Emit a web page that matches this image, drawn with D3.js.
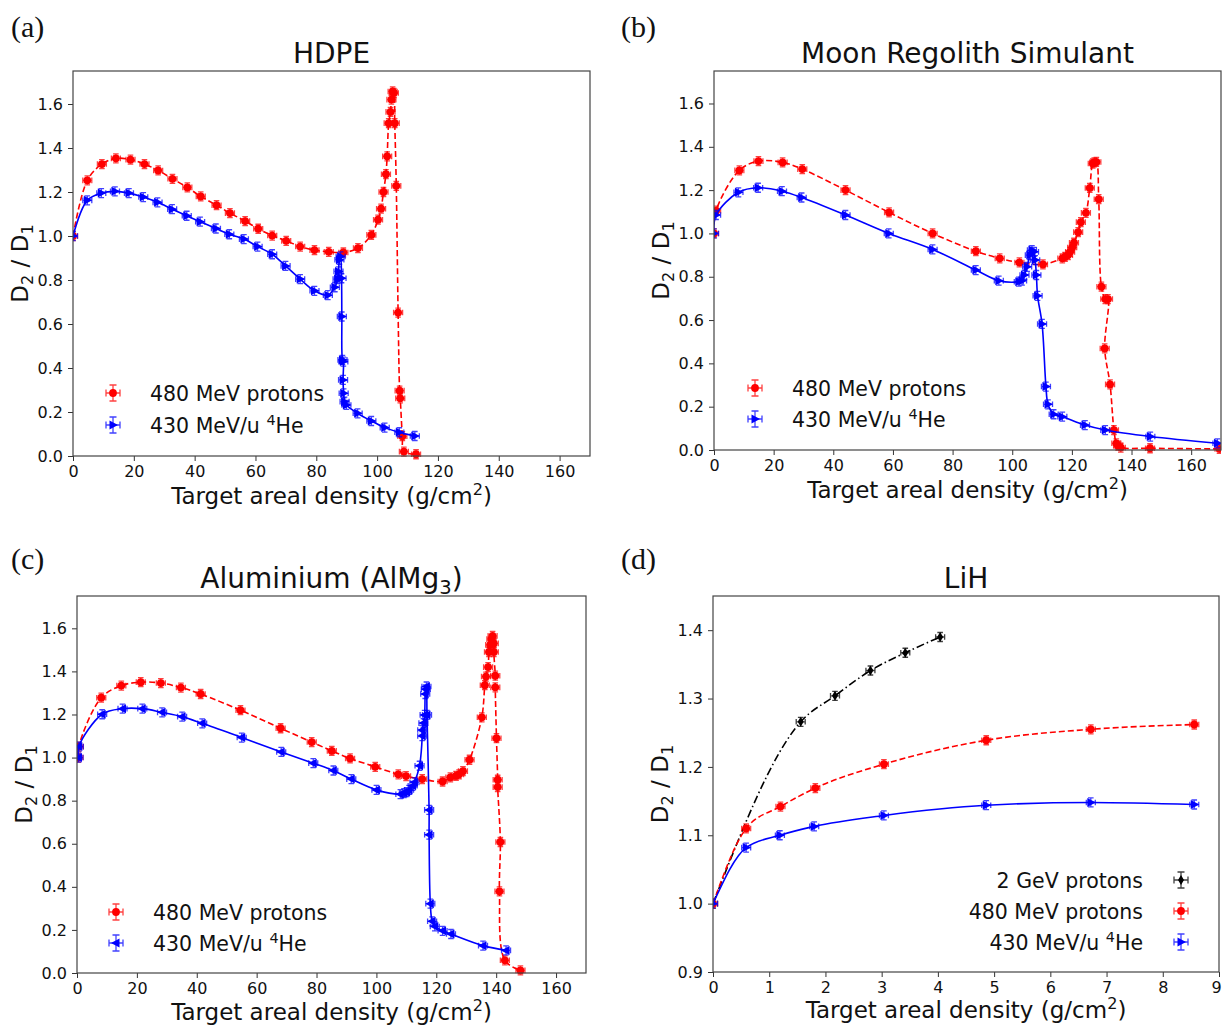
<!DOCTYPE html>
<html>
<head>
<meta charset="utf-8">
<title>D2/D1 vs target areal density</title>
<script src="https://d3js.org/d3.v7.min.js"></script>
<style>
  body { margin: 0; background: #fff; }
  svg { display: block; font-family: "DejaVu Sans", sans-serif; }
  .tick text { font-size: 16px; fill: #111; font-family: "DejaVu Sans", sans-serif; }
  .tick line { stroke: #333; }
  .domain { display: none; }
</style>
</head>
<body>
<div id="chart"></div>
<script>
// values: [areal density g/cm2, D2/D1]
const hdpeProtons = [[0,1.0],[4.7,1.253],[9.5,1.327],[14.1,1.353],[18.9,1.347],[23.5,1.327],[28.0,1.298],[32.7,1.260],[37.6,1.221],[42.0,1.180],[47.2,1.140],[51.6,1.104],[56.6,1.068],[60.9,1.033],[65.5,1.002],[70.1,0.978],[74.7,0.952],[79.4,0.936],[84.1,0.928],[88.9,0.925],[93.7,0.945],[98.1,1.005],[100.3,1.074],[101.3,1.124],[102.1,1.200],[102.9,1.281],[103.3,1.362],[103.8,1.513],[104.4,1.564],[104.7,1.620],[105.1,1.657],[105.5,1.650],[105.8,1.513],[106.3,1.228],[106.9,0.652],[107.4,0.297],[107.6,0.262],[108.3,0.090],[108.8,0.020],[112.8,0.008]];
const hdpeHe = [[0,1.0],[4.7,1.162],[9.3,1.195],[13.8,1.203],[18.4,1.195],[23.1,1.177],[27.8,1.153],[32.6,1.122],[37.4,1.092],[41.8,1.065],[47.0,1.034],[51.4,1.008],[56.2,0.986],[60.7,0.952],[65.5,0.917],[69.9,0.864],[74.7,0.804],[79.4,0.751],[83.8,0.731],[86.1,0.767],[87.0,0.804],[87.3,0.839],[87.6,0.892],[88.0,0.907],[88.3,0.808],[88.4,0.634],[88.6,0.437],[88.9,0.429],[88.8,0.346],[89.0,0.285],[89.3,0.247],[89.9,0.232],[93.6,0.194],[98.1,0.159],[102.5,0.129],[107.3,0.108],[112.4,0.091]];

const regolithProtons = [[0,1.0],[0.7,1.105],[8.5,1.291],[14.9,1.334],[23.0,1.328],[29.6,1.297],[44.1,1.200],[58.7,1.097],[73.3,1.000],[87.8,0.918],[95.8,0.885],[102.4,0.866],[110.3,0.857],[116.8,0.885],[117.7,0.892],[118.7,0.900],[119.4,0.915],[120.1,0.935],[120.7,0.957],[122.1,1.006],[123.0,1.052],[124.7,1.095],[126.0,1.210],[127.0,1.323],[127.5,1.328],[128.2,1.330],[129.0,1.158],[129.9,0.754],[131.2,0.697],[132.1,0.697],[131.0,0.469],[132.8,0.303],[134.1,0.092],[134.9,0.031],[135.5,0.020],[136.4,0.011],[146.2,0.008],[169.5,0.005]];
const regolithHe = [[0,1.0],[0.7,1.085],[8.2,1.190],[14.8,1.211],[22.8,1.195],[29.4,1.166],[44.1,1.085],[58.6,1.000],[73.3,0.926],[87.8,0.831],[95.5,0.782],[102.2,0.777],[103.3,0.782],[104.1,0.808],[105.0,0.846],[105.9,0.900],[106.6,0.923],[107.3,0.915],[107.7,0.877],[108.1,0.808],[108.5,0.712],[110.0,0.582],[111.3,0.293],[112.0,0.211],[113.9,0.165],[116.8,0.154],[124.4,0.115],[131.2,0.092],[146.3,0.062],[168.8,0.031]];

const aluminiumProtons = [[0.5,1.0],[0.6,1.051],[8.1,1.278],[14.8,1.334],[21.3,1.350],[28.0,1.346],[34.7,1.325],[41.3,1.295],[54.6,1.220],[68.0,1.136],[78.4,1.072],[85.1,1.031],[91.2,0.996],[99.6,0.957],[107.3,0.922],[109.9,0.914],[115.3,0.900],[122.1,0.889],[124.7,0.908],[126.6,0.915],[127.6,0.922],[128.9,0.937],[131.1,0.990],[135.2,1.187],[136.2,1.336],[136.6,1.376],[137.3,1.420],[137.6,1.490],[138.0,1.523],[138.4,1.550],[138.8,1.565],[139.2,1.530],[139.2,1.490],[139.7,1.380],[139.7,1.326],[140.1,1.090],[140.5,0.897],[140.5,0.863],[141.4,0.608],[141.1,0.379],[142.9,0.059],[148.1,0.012]];
const aluminiumHe = [[0.5,1.0],[0.6,1.051],[8.4,1.201],[15.2,1.227],[21.8,1.227],[28.4,1.210],[35.1,1.190],[41.8,1.159],[55.0,1.093],[68.2,1.026],[78.9,0.974],[85.6,0.940],[91.6,0.900],[100.0,0.850],[108.0,0.830],[109.2,0.835],[110.1,0.840],[110.9,0.850],[112.1,0.869],[112.7,0.885],[114.4,0.962],[115.3,1.100],[115.3,1.128],[115.7,1.160],[116.1,1.198],[116.3,1.295],[116.5,1.317],[116.7,1.330],[116.9,1.198],[117.6,0.757],[117.6,0.642],[118.0,0.322],[118.6,0.240],[119.5,0.216],[122.1,0.196],[124.9,0.181],[135.6,0.127],[143.3,0.105]];

const lihProtons2GeV = [[0,1.0],[1.56,1.266],[2.17,1.304],[2.80,1.341],[3.42,1.367],[4.04,1.390]];
const lihProtons480 = [[0,1.0],[0.59,1.110],[1.20,1.142],[1.82,1.169],[3.04,1.204],[4.86,1.239],[6.72,1.255],[8.56,1.262]];
const lihHe = [[0,1.0],[0.59,1.082],[1.19,1.100],[1.80,1.113],[3.04,1.129],[4.86,1.144],[6.72,1.148],[8.56,1.145]];

const densityTicks = [0, 20, 40, 60, 80, 100, 120, 140, 160];
const ratioTicks = [0.0, 0.2, 0.4, 0.6, 0.8, 1.0, 1.2, 1.4, 1.6];
const lihDensityTicks = [0, 1, 2, 3, 4, 5, 6, 7, 8, 9];
const lihRatioTicks = [0.9, 1.0, 1.1, 1.2, 1.3, 1.4];

const width = 1223, height = 1027;

// series styles
const proton480 = { label: [{t: "480 MeV protons"}], color: "#ff0000", dash: "6,3", marker: "circle" };
const helium = { label: [{t: "430 MeV/u "}, {t: "4", sup: true}, {t: "He"}], color: "#0000ff", dash: null, marker: "triRight" };
const proton2GeV = { label: [{t: "2 GeV protons"}], color: "#000000", dash: "8,3,1.5,3", marker: "diamond" };

const panels = [
    { tag: "(a)", title: [{t: "HDPE"}], box: {l: 73, r: 590, t: 71, b: 456},
      xDomain: [0, 170], yDomain: [0, 1.75], xTicks: densityTicks, yTicks: ratioTicks,
      series: [{...proton480, data: hdpeProtons}, {...helium, data: hdpeHe}],
      curve: "catmull", legend: {x: 113, y: 393, dy: 32, anchor: "start"}, titleY: 63, xlabelY: 504 },
    { tag: "(b)", title: [{t: "Moon Regolith Simulant"}], box: {l: 714, r: 1221, t: 71, b: 450},
      xDomain: [0, 170], yDomain: [0, 1.75], xTicks: densityTicks, yTicks: ratioTicks,
      series: [{...proton480, data: regolithProtons}, {...helium, data: regolithHe}],
      curve: "catmull", legend: {x: 755, y: 388, dy: 31, anchor: "start"}, titleY: 63, xlabelY: 498 },
    { tag: "(c)", title: [{t: "Aluminium (AlMg"}, {t: "3", sub: true}, {t: ")"}], box: {l: 77, r: 586, t: 596, b: 973},
      xDomain: [0, 170], yDomain: [0, 1.75], xTicks: densityTicks, yTicks: ratioTicks,
      series: [{...proton480, data: aluminiumProtons}, {...helium, marker: "triLeft", data: aluminiumHe}],
      curve: "catmull", legend: {x: 116, y: 912, dy: 31, anchor: "start"}, titleY: 588, xlabelY: 1020 },
    { tag: "(d)", title: [{t: "LiH"}], box: {l: 713, r: 1219, t: 596, b: 972},
      xDomain: [0, 9], yDomain: [0.9, 1.45], xTicks: lihDensityTicks, yTicks: lihRatioTicks,
      series: [{...proton2GeV, data: lihProtons2GeV}, {...proton480, data: lihProtons480}, {...helium, data: lihHe}],
      curve: "monotone", legend: {x: 1181, y: 880, dy: 31, anchor: "end"}, titleY: 588, xlabelY: 1018 }
];

const svg = d3.select("#chart").append("svg")
    .attr("width", width)
    .attr("height", height);

svg.append("rect").attr("width", width).attr("height", height).attr("fill", "#fff");

// writes text parts with sub/superscripts as tspans
function richText(text, parts, size) {
    let current = 0;
    parts.forEach(p => {
        const shift = p.sub ? size * 0.22 : (p.sup ? -size * 0.4 : 0);
        text.append("tspan")
            .attr("dy", shift - current)
            .attr("font-size", (p.sub || p.sup) ? size * 0.7 : size)
            .text(p.t);
        current = shift;
    });
}

function drawMarker(g, type, x, y, color) {
    if (type === "circle") {
        g.append("circle").attr("cx", x).attr("cy", y).attr("r", 3.9).attr("fill", color);
    } else if (type === "diamond") {
        g.append("path")
            .attr("d", `M${x},${y - 5}L${x + 3},${y}L${x},${y + 5}L${x - 3},${y}Z`)
            .attr("fill", color);
    } else {
        const dir = type === "triRight" ? 1 : -1;
        g.append("path")
            .attr("d", `M${x + 5 * dir},${y}L${x - 3.5 * dir},${y - 4.5}L${x - 3.5 * dir},${y + 4.5}Z`)
            .attr("fill", color);
    }
}

function drawErrorBar(g, x, y, ex, ey, cap, color) {
    const p = d3.path();
    p.moveTo(x - ex, y); p.lineTo(x + ex, y);
    p.moveTo(x, y - ey); p.lineTo(x, y + ey);
    p.moveTo(x - ex, y - cap); p.lineTo(x - ex, y + cap);
    p.moveTo(x + ex, y - cap); p.lineTo(x + ex, y + cap);
    p.moveTo(x - cap, y - ey); p.lineTo(x + cap, y - ey);
    p.moveTo(x - cap, y + ey); p.lineTo(x + cap, y + ey);
    g.append("path").attr("d", p.toString())
        .attr("stroke", color).attr("stroke-width", 1.3).attr("fill", "none")
        .attr("stroke-opacity", 0.75);
}

panels.forEach((pn, idx) => {
    const {l, r, t, b} = pn.box;
    const x = d3.scaleLinear().domain(pn.xDomain).range([l, r]);
    const y = d3.scaleLinear().domain(pn.yDomain).range([b, t]);
    const g = svg.append("g");

    // panel tag
    g.append("text")
        .attr("x", idx % 2 === 0 ? 11 : 621)
        .attr("y", idx < 2 ? 37 : 569)
        .attr("font-family", "'Liberation Serif', 'DejaVu Serif', serif")
        .attr("font-size", 30)
        .attr("fill", "#111")
        .text(pn.tag);

    // title
    const title = g.append("text")
        .attr("x", (l + r) / 2).attr("y", pn.titleY)
        .attr("text-anchor", "middle").attr("fill", "#111");
    richText(title, pn.title, 28);

    // axes
    const xAxis = g.append("g")
        .attr("transform", `translate(0,${b})`)
        .call(d3.axisBottom(x).tickValues(pn.xTicks).tickFormat(d3.format("d")).tickSize(5).tickPadding(5));
    // keep a label sitting on the window edge inside it
    xAxis.selectAll(".tick text").filter(d => x(d) > width - 8).attr("dx", -3);
    g.append("g")
        .attr("transform", `translate(${l},0)`)
        .call(d3.axisLeft(y).tickValues(pn.yTicks).tickFormat(d3.format(".1f")).tickSize(5).tickPadding(5));

    // axis labels
    const xl = g.append("text")
        .attr("x", (l + r) / 2).attr("y", pn.xlabelY)
        .attr("text-anchor", "middle").attr("fill", "#111");
    richText(xl, [{t: "Target areal density (g/cm"}, {t: "2", sup: true}, {t: ")"}], 23);

    const yl = g.append("text")
        .attr("transform", `translate(${l - 45},${(t + b) / 2}) rotate(-90)`)
        .attr("text-anchor", "middle").attr("fill", "#111");
    richText(yl, [{t: "D"}, {t: "2", sub: true}, {t: " / D"}, {t: "1", sub: true}], 23);

    // data
    const clipId = "clip" + idx;
    svg.append("clipPath").attr("id", clipId)
        .append("rect").attr("x", l).attr("y", t - 10).attr("width", r - l).attr("height", b - t + 20);
    const plot = g.append("g").attr("clip-path", `url(#${clipId})`);

    const curve = pn.curve === "monotone" ? d3.curveMonotoneX : d3.curveCatmullRom.alpha(0.5);
    const line = d3.line().x(d => x(d[0])).y(d => y(d[1])).curve(curve);

    pn.series.forEach(s => {
        const sg = plot.append("g");
        sg.append("path")
            .attr("d", line(s.data))
            .attr("fill", "none")
            .attr("stroke", s.color)
            .attr("stroke-width", 1.6)
            .attr("stroke-dasharray", s.dash);
        s.data.forEach(d => drawErrorBar(sg, x(d[0]), y(d[1]), 4.5, 4.5, 2.8, s.color));
        s.data.forEach(d => drawMarker(sg, s.marker, x(d[0]), y(d[1]), s.color));
    });

    // frame
    g.append("rect")
        .attr("x", l).attr("y", t).attr("width", r - l).attr("height", b - t)
        .attr("fill", "none").attr("stroke", "#444").attr("stroke-width", 1.2);

    // legend
    const lg = g.append("g");
    pn.series.forEach((s, i) => {
        const ly = pn.legend.y + i * pn.legend.dy;
        drawErrorBar(lg, pn.legend.x, ly, 7, 8, 3.5, s.color);
        drawMarker(lg, s.marker, pn.legend.x, ly, s.color);
        const tx = lg.append("text")
            .attr("x", pn.legend.anchor === "start" ? pn.legend.x + 37 : pn.legend.x - 38)
            .attr("y", ly + 8)
            .attr("text-anchor", pn.legend.anchor)
            .attr("fill", "#111");
        richText(tx, s.label, 20.5);
    });
});
</script>
</body>
</html>
